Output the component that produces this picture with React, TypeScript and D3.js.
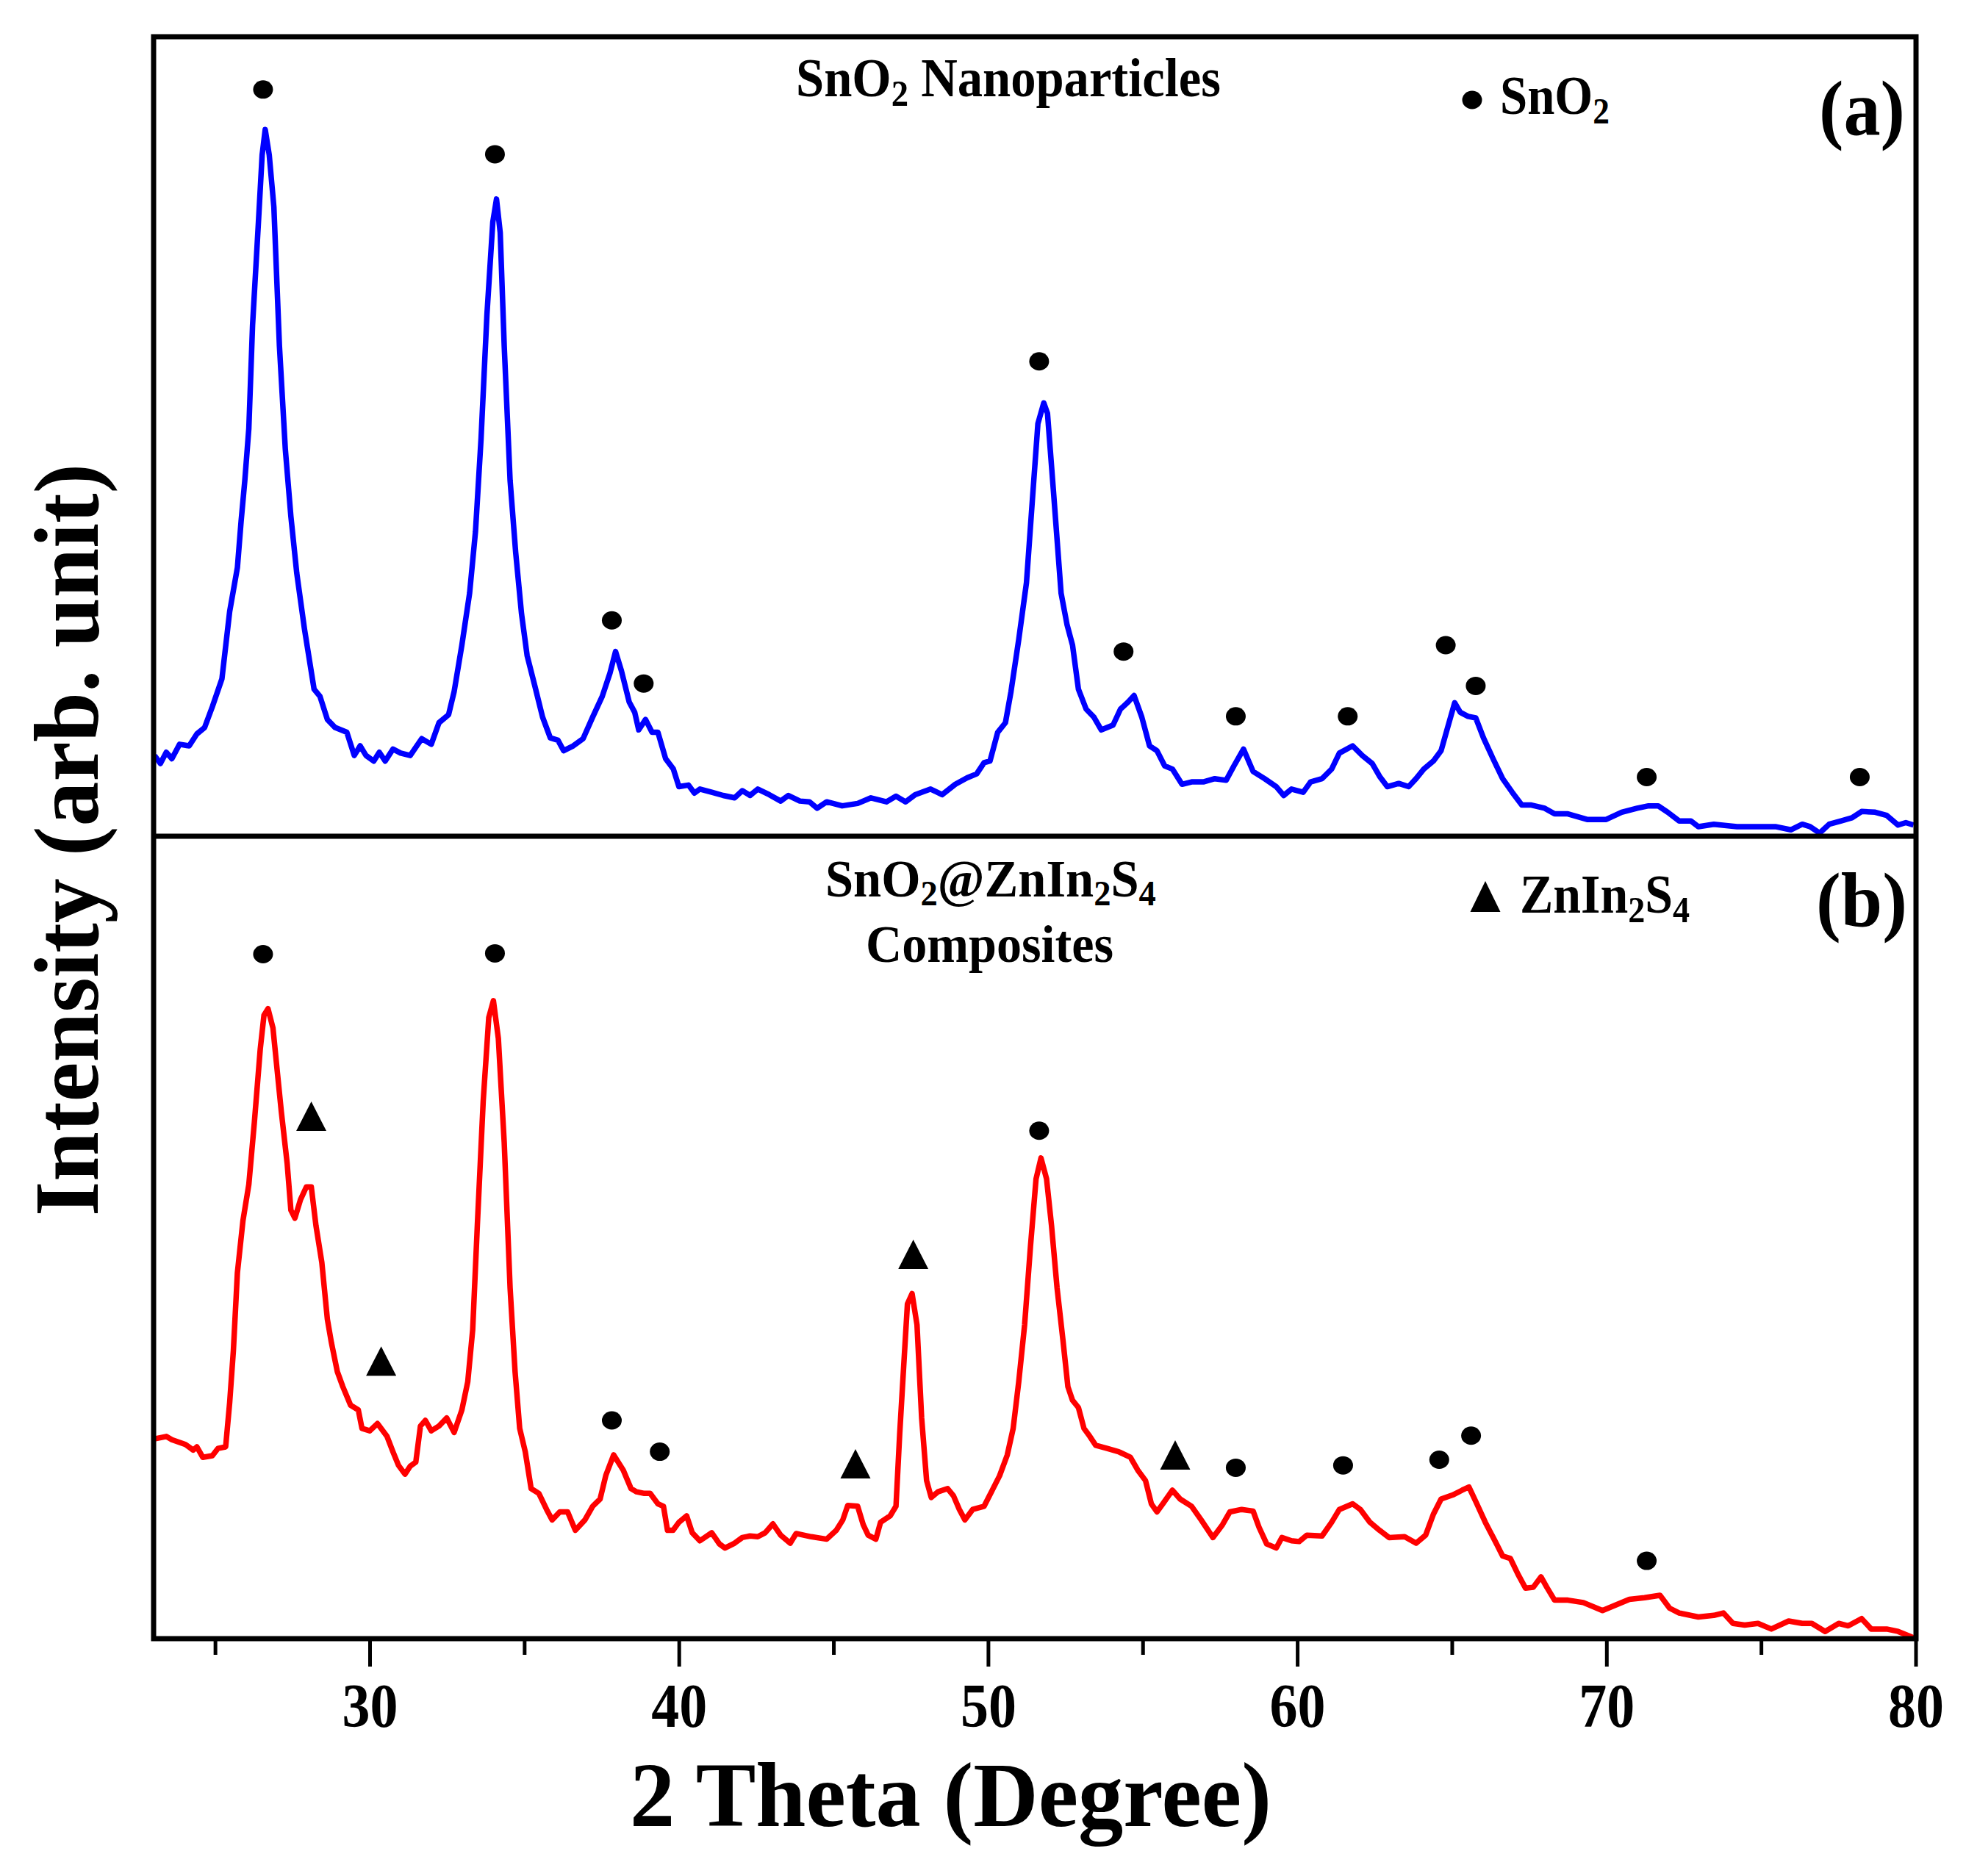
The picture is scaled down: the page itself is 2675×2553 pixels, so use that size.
import { useEffect, useRef } from "react";
import * as d3 from "d3";

// 2θ (degree), intensity as % of panel height
const snO2Pattern: [number, number][] = [
  [23.03, 10.1], [23.22, 9.1], [23.41, 10.5], [23.59, 9.7], [23.84, 11.5], [24.15, 11.3], [24.4, 12.8], [24.65, 13.6],
  [24.9, 16.2], [25.21, 19.7], [25.46, 28.1], [25.71, 33.6], [25.83, 39.4], [25.95, 44.5], [26.08, 51.0], [26.2, 63.9],
  [26.39, 76.8], [26.51, 85.2], [26.61, 88.4], [26.74, 85.2], [26.89, 78.7], [27.07, 61.3], [27.26, 48.4], [27.44, 40.0],
  [27.63, 32.9], [27.88, 25.9], [28.19, 18.4], [28.38, 17.5], [28.62, 14.6], [28.87, 13.6], [29.25, 13.0], [29.49, 10.1],
  [29.68, 11.3], [29.87, 10.1], [30.12, 9.4], [30.3, 10.5], [30.49, 9.4], [30.74, 10.9], [30.99, 10.4], [31.3, 10.1],
  [31.67, 12.2], [31.98, 11.5], [32.23, 14.2], [32.54, 15.2], [32.72, 18.1], [32.97, 23.9], [33.22, 30.4], [33.41, 38.1],
  [33.59, 49.7], [33.78, 65.2], [33.97, 76.8], [34.09, 79.7], [34.21, 75.5], [34.34, 61.3], [34.53, 44.5], [34.71, 35.5],
  [34.9, 27.8], [35.08, 22.6], [35.33, 18.8], [35.58, 14.9], [35.83, 12.3], [36.08, 12.0], [36.26, 10.7], [36.57, 11.3],
  [36.89, 12.2], [37.2, 14.9], [37.51, 17.5], [37.76, 20.4], [37.94, 23.1], [38.13, 20.7], [38.38, 16.8], [38.56, 15.5],
  [38.69, 13.3], [38.91, 14.6], [39.12, 13.0], [39.31, 13.0], [39.56, 9.7], [39.81, 8.4], [39.99, 6.2], [40.3, 6.4],
  [40.49, 5.4], [40.67, 5.9], [41.05, 5.5], [41.42, 5.1], [41.79, 4.8], [42.04, 5.7], [42.29, 5.1], [42.54, 5.9],
  [42.91, 5.2], [43.28, 4.4], [43.53, 5.1], [43.9, 4.4], [44.21, 4.3], [44.46, 3.5], [44.77, 4.3], [45.27, 3.8],
  [45.77, 4.1], [46.2, 4.8], [46.7, 4.3], [47.01, 5.0], [47.32, 4.3], [47.63, 5.2], [48.13, 5.9], [48.5, 5.2],
  [48.93, 6.5], [49.31, 7.3], [49.62, 7.8], [49.86, 9.2], [50.05, 9.4], [50.3, 13.0], [50.55, 14.2], [50.73, 18.1],
  [50.98, 24.6], [51.23, 31.7], [51.42, 42.0], [51.6, 51.6], [51.79, 54.2], [51.91, 52.9], [52.1, 43.3], [52.35, 30.4],
  [52.54, 26.5], [52.72, 23.9], [52.91, 18.4], [53.16, 15.9], [53.41, 14.9], [53.65, 13.3], [54.03, 13.9], [54.27, 15.9],
  [54.52, 16.8], [54.71, 17.6], [54.96, 14.9], [55.21, 11.3], [55.45, 10.7], [55.7, 8.8], [55.95, 8.4], [56.26, 6.5],
  [56.57, 6.8], [56.95, 6.8], [57.32, 7.2], [57.69, 7.0], [57.94, 8.8], [58.25, 10.9], [58.56, 8.1], [58.93, 7.2],
  [59.31, 6.2], [59.55, 5.1], [59.8, 5.9], [60.18, 5.5], [60.42, 6.8], [60.79, 7.2], [61.1, 8.4], [61.35, 10.4],
  [61.78, 11.3], [62.09, 10.1], [62.41, 9.1], [62.65, 7.5], [62.9, 6.2], [63.27, 6.6], [63.59, 6.2], [63.83, 7.2],
  [64.08, 8.4], [64.39, 9.4], [64.64, 10.7], [64.83, 13.3], [65.08, 16.7], [65.26, 15.5], [65.51, 15.0], [65.76, 14.8],
  [66.01, 12.3], [66.32, 9.7], [66.63, 7.2], [66.94, 5.5], [67.25, 3.9], [67.56, 3.9], [67.99, 3.5], [68.31, 2.8],
  [68.74, 2.8], [69.36, 2.1], [69.98, 2.1], [70.48, 3.0], [70.98, 3.5], [71.35, 3.8], [71.66, 3.8], [71.97, 3.0],
  [72.34, 1.9], [72.72, 1.9], [72.96, 1.2], [73.46, 1.5], [74.21, 1.2], [74.83, 1.2], [75.45, 1.2], [75.95, 0.8],
  [76.32, 1.5], [76.57, 1.2], [76.88, 0.4], [77.19, 1.5], [77.56, 1.9], [77.93, 2.3], [78.24, 3.1], [78.68, 3.0],
  [79.05, 2.6], [79.42, 1.4], [79.67, 1.7], [79.92, 1.4],
];

const compositePattern: [number, number][] = [
  [23.03, 24.9], [23.41, 25.2], [23.59, 24.8], [24.03, 24.2], [24.28, 23.5], [24.4, 23.9], [24.59, 22.6], [24.9, 22.8],
  [25.08, 23.7], [25.33, 23.9], [25.46, 29.4], [25.58, 35.9], [25.71, 45.6], [25.89, 52.1], [26.08, 56.6], [26.26, 64.4],
  [26.45, 73.5], [26.57, 77.7], [26.7, 78.5], [26.86, 76.1], [27.01, 70.3], [27.13, 65.7], [27.32, 59.2], [27.44, 53.4],
  [27.57, 52.4], [27.75, 54.7], [27.94, 56.3], [28.1, 56.3], [28.25, 51.5], [28.44, 46.9], [28.62, 39.8], [28.75, 36.9],
  [28.94, 33.3], [29.12, 31.4], [29.37, 29.1], [29.62, 28.5], [29.74, 26.2], [29.99, 25.9], [30.24, 26.8], [30.55, 25.2],
  [30.74, 23.3], [30.92, 21.6], [31.13, 20.5], [31.3, 21.5], [31.48, 22.0], [31.63, 26.5], [31.79, 27.2], [31.98, 25.9],
  [32.23, 26.5], [32.48, 27.5], [32.72, 25.7], [32.97, 28.5], [33.16, 32.0], [33.32, 38.5], [33.47, 51.5], [33.66, 67.0],
  [33.84, 77.4], [33.99, 79.5], [34.15, 74.8], [34.34, 61.8], [34.53, 43.7], [34.69, 33.3], [34.84, 26.2], [35.02, 23.3],
  [35.21, 18.7], [35.46, 18.1], [35.71, 16.1], [35.89, 14.8], [36.14, 15.8], [36.39, 15.8], [36.64, 13.5], [36.95, 14.8],
  [37.2, 16.5], [37.44, 17.4], [37.63, 20.4], [37.88, 22.9], [38.19, 21.0], [38.44, 18.7], [38.62, 18.3], [38.87, 18.1],
  [39.06, 18.1], [39.31, 16.8], [39.49, 16.5], [39.62, 13.5], [39.8, 13.5], [39.99, 14.5], [40.24, 15.3], [40.42, 13.2],
  [40.67, 12.2], [41.05, 13.2], [41.3, 11.8], [41.48, 11.3], [41.79, 11.9], [42.04, 12.6], [42.29, 12.8], [42.54, 12.7],
  [42.78, 13.2], [43.03, 14.3], [43.28, 12.9], [43.59, 11.9], [43.78, 13.1], [44.27, 12.7], [44.77, 12.4], [45.08, 13.5],
  [45.29, 14.8], [45.45, 16.6], [45.77, 16.5], [45.95, 14.2], [46.11, 12.9], [46.36, 12.4], [46.51, 14.5], [46.82, 15.3],
  [47.01, 16.5], [47.13, 25.5], [47.26, 34.0], [47.38, 41.7], [47.53, 43.0], [47.69, 39.1], [47.84, 27.5], [48.0, 19.7],
  [48.15, 17.6], [48.37, 18.3], [48.68, 18.7], [48.87, 17.8], [49.06, 16.1], [49.24, 14.8], [49.49, 16.1], [49.86, 16.5],
  [50.11, 18.4], [50.36, 20.3], [50.61, 22.9], [50.8, 26.2], [50.98, 32.0], [51.17, 39.1], [51.36, 48.9], [51.54, 57.3],
  [51.7, 59.9], [51.88, 57.3], [52.04, 51.5], [52.22, 43.7], [52.41, 37.2], [52.57, 31.4], [52.72, 29.7], [52.91, 28.8],
  [53.09, 26.2], [53.28, 25.2], [53.47, 24.1], [53.84, 23.7], [54.21, 23.3], [54.59, 22.6], [54.83, 21.0], [55.08, 19.7],
  [55.27, 16.8], [55.45, 15.8], [55.64, 16.8], [55.95, 18.5], [56.2, 17.4], [56.57, 16.5], [56.88, 14.8], [57.26, 12.6],
  [57.57, 14.2], [57.81, 15.8], [58.19, 16.1], [58.56, 15.9], [58.75, 13.9], [59.0, 11.8], [59.31, 11.3], [59.49, 12.6],
  [59.8, 12.2], [60.05, 12.1], [60.3, 12.9], [60.79, 12.8], [61.1, 14.5], [61.35, 16.1], [61.78, 16.8], [62.03, 16.1],
  [62.34, 14.5], [62.65, 13.5], [62.96, 12.6], [63.46, 12.7], [63.83, 11.9], [64.14, 12.9], [64.39, 15.5], [64.64, 17.4],
  [65.01, 17.9], [65.32, 18.5], [65.54, 18.9], [65.76, 17.1], [66.07, 14.5], [66.38, 12.2], [66.63, 10.3], [66.88, 10.0],
  [67.13, 8.0], [67.37, 6.3], [67.62, 6.4], [67.87, 7.7], [68.06, 6.4], [68.31, 4.8], [68.74, 4.8], [69.24, 4.5],
  [69.86, 3.5], [70.23, 4.1], [70.73, 4.9], [71.22, 5.1], [71.72, 5.4], [72.03, 3.8], [72.34, 3.2], [72.96, 2.7],
  [73.46, 2.9], [73.77, 3.2], [74.08, 1.9], [74.46, 1.7], [74.89, 1.9], [75.32, 1.2], [75.88, 2.2], [76.32, 1.9],
  [76.63, 1.9], [77.06, 0.9], [77.5, 1.9], [77.81, 1.6], [78.24, 2.5], [78.55, 1.2], [79.05, 1.2], [79.42, 0.9],
  [79.8, 0.3], [79.98, 0.0],
];

// peak markers [2θ, height]
const snO2MarksA: [number, number][] = [
  [26.54, 93.4], [34.04, 85.3], [37.82, 27.0], [38.85, 19.1], [51.64, 59.4], [54.37, 23.1],
  [58.0, 15.0], [61.62, 15.0], [64.79, 23.9], [65.76, 18.8], [71.29, 7.4], [78.18, 7.4],
];
const snO2MarksB: [number, number][] = [
  [26.54, 85.3], [34.04, 85.4], [37.82, 27.2], [39.37, 23.3], [51.64, 63.3],
  [58.0, 21.3], [61.47, 21.6], [64.58, 22.3], [65.61, 25.3], [71.29, 9.7],
];
const znIn2S4Marks: [number, number][] = [
  [28.1, 65.1], [30.36, 34.6], [45.7, 21.8], [47.57, 47.9], [56.04, 22.9],
];

const xTicks = [25, 30, 35, 40, 45, 50, 55, 60, 65, 70, 75, 80];
const xTickLabels = [30, 40, 50, 60, 70, 80];

const FONT = "'Liberation Serif', 'Times New Roman', serif";

type Part = [string, boolean];

export default function App() {
  const svgRef = useRef<SVGSVGElement>(null);

  useEffect(() => {
    if (!svgRef.current) return;
    const svg = d3.select(svgRef.current);
    svg.selectAll("*").remove();

    const left = 209, right = 2607, top = 50, mid = 1138, bottom = 2230;

    const x = d3.scaleLinear().domain([23, 80]).range([left, right]);
    const yA = d3.scaleLinear().domain([0, 100]).range([mid, top]);
    const yB = d3.scaleLinear().domain([0, 100]).range([bottom, mid]);

    // bold serif text with subscripts, squeezed horizontally to a measured width
    const chem = (px: number, py: number, size: number, parts: Part[], width: number) => {
      const t = svg.append("text")
        .attr("x", 0).attr("y", 0)
        .attr("font-family", FONT).attr("font-weight", "bold")
        .attr("font-size", size).attr("fill", "#000");
      let down = false;
      const shift = size * 0.17;
      parts.forEach(([s, sub]) => {
        const ts = t.append("tspan").text(s);
        if (sub) {
          ts.attr("font-size", size * 0.68);
          if (!down) { ts.attr("dy", shift); down = true; }
        } else if (down) {
          ts.attr("dy", -shift); down = false;
        }
      });
      const natural = (t.node() as SVGTextElement).getComputedTextLength() || width;
      t.attr("transform", `translate(${px},${py}) scale(${width / natural},1)`);
      return t;
    };

    // Curves
    const lineA = d3.line<[number, number]>().x(d => x(d[0])).y(d => yA(d[1]));
    const lineB = d3.line<[number, number]>().x(d => x(d[0])).y(d => yB(d[1]));

    svg.append("path").datum(snO2Pattern)
      .attr("fill", "none").attr("stroke", "#0000ff").attr("stroke-width", 7.5)
      .attr("stroke-linejoin", "round").attr("d", lineA);

    svg.append("path").datum(compositePattern)
      .attr("fill", "none").attr("stroke", "#ff0000").attr("stroke-width", 7.5)
      .attr("stroke-linejoin", "round").attr("d", lineB);

    // Markers
    svg.append("g").selectAll("ellipse").data(snO2MarksA).enter().append("ellipse")
      .attr("cx", d => x(d[0])).attr("cy", d => yA(d[1])).attr("rx", 13.5).attr("ry", 12.5).attr("fill", "#000");
    svg.append("g").selectAll("ellipse").data(snO2MarksB).enter().append("ellipse")
      .attr("cx", d => x(d[0])).attr("cy", d => yB(d[1])).attr("rx", 13.5).attr("ry", 12.5).attr("fill", "#000");

    const tri = (cx: number, cy: number, w: number, h: number) =>
      `M${cx},${cy - h / 2}L${cx + w / 2},${cy + h / 2}L${cx - w / 2},${cy + h / 2}Z`;
    svg.append("g").selectAll("path").data(znIn2S4Marks).enter().append("path")
      .attr("d", d => tri(x(d[0]), yB(d[1]), 41, 40)).attr("fill", "#000");

    // Frame and divider
    svg.append("rect")
      .attr("x", left).attr("y", top).attr("width", right - left).attr("height", bottom - top)
      .attr("fill", "none").attr("stroke", "#000").attr("stroke-width", 7);
    svg.append("line")
      .attr("x1", left).attr("x2", right).attr("y1", mid).attr("y2", mid)
      .attr("stroke", "#000").attr("stroke-width", 7);

    // X ticks
    const ticks = svg.append("g");
    ticks.selectAll("line").data(xTicks).enter().append("line")
      .attr("x1", d => x(d)).attr("x2", d => x(d))
      .attr("y1", bottom).attr("y2", d => bottom + (d % 10 === 0 ? 38 : 22))
      .attr("stroke", "#000").attr("stroke-width", 5);
    ticks.selectAll("text").data(xTickLabels).enter().append("text")
      .attr("x", d => x(d)).attr("y", 2350)
      .attr("text-anchor", "middle")
      .attr("font-family", FONT).attr("font-weight", "bold").attr("font-size", 84)
      .attr("textLength", 76).attr("lengthAdjust", "spacingAndGlyphs")
      .text(d => d);

    // Axis titles
    svg.append("text")
      .attr("x", 857).attr("y", 2485)
      .attr("font-family", FONT).attr("font-weight", "bold").attr("font-size", 124)
      .attr("textLength", 873).attr("lengthAdjust", "spacingAndGlyphs")
      .text("2 Theta (Degree)");
    svg.append("text")
      .attr("transform", "translate(133,1655) rotate(-90)")
      .attr("font-family", FONT).attr("font-weight", "bold").attr("font-size", 124)
      .attr("textLength", 1024).attr("lengthAdjust", "spacingAndGlyphs")
      .text("Intensity (arb. unit)");

    // Panel (a) annotations
    chem(1083, 131, 74, [["SnO", false], ["2", true], [" Nanoparticles", false]], 578);
    svg.append("ellipse").attr("cx", 2003).attr("cy", 136).attr("rx", 13.5).attr("ry", 12.5).attr("fill", "#000");
    chem(2041, 155, 74, [["SnO", false], ["2", true]], 149);
    chem(2475, 183, 106, [["(a)", false]], 117);

    // Panel (b) annotations
    chem(1123, 1220, 72, [["SnO", false], ["2", true], ["@ZnIn", false], ["2", true], ["S", false], ["4", true]], 450);
    chem(1178, 1309, 72, [["Composites", false]], 337);
    svg.append("path").attr("d", tri(2021, 1220, 41, 42)).attr("fill", "#000");
    chem(2068, 1242, 74, [["ZnIn", false], ["2", true], ["S", false], ["4", true]], 231);
    chem(2471, 1261, 106, [["(b)", false]], 124);
  }, []);

  return (
    <svg
      ref={svgRef}
      width={2675}
      height={2553}
      style={{ position: "absolute", left: 0, top: 0, background: "#fff" }}
    />
  );
}
